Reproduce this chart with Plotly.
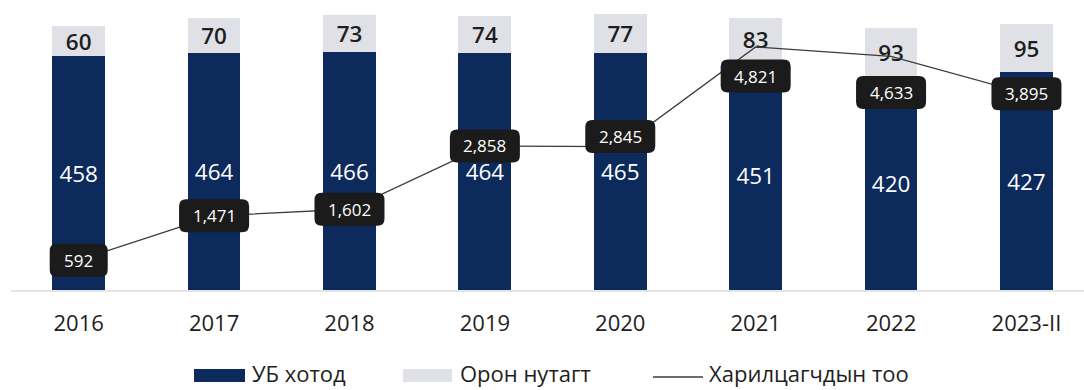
import plotly.graph_objects as go

# Data
categories = ["2016", "2017", "2018", "2019", "2020", "2021", "2022", "2023-II"]
ub_city = [458, 464, 466, 464, 465, 451, 420, 427]          # УБ хотод
countryside = [60, 70, 73, 74, 77, 83, 93, 95]              # Орон нутагт
clients = [592, 1471, 1602, 2858, 2845, 4821, 4633, 3895]   # Харилцагчдын тоо

# Vertical pixel offset of each value badge relative to its point (positive = up)
badge_shift = [0, 0, 0, 0, 10, -29, -36, 0]

NAVY = "#0d2a5c"
LIGHT = "#dfe1e6"
FONT = "Open Sans"

fig = go.Figure()

fig.add_trace(go.Bar(
    x=categories, y=ub_city, name="УБ хотод",
    marker=dict(color=NAVY, line=dict(width=0)),
    width=0.39,
    text=[str(v) for v in ub_city], textposition="inside", insidetextanchor="middle",
    textangle=0,
    textfont=dict(color="white", size=23, family=FONT),
    showlegend=False,
))
fig.add_trace(go.Bar(
    x=categories, y=countryside, name="Орон нутагт",
    marker=dict(color=LIGHT, line=dict(width=0)),
    width=0.39,
    text=[str(v) for v in countryside], textposition="inside", insidetextanchor="middle",
    textangle=0,
    textfont=dict(color="#1e1e1e", size=23, family=FONT, weight=600),
    showlegend=False,
))
fig.add_trace(go.Scatter(
    x=categories, y=clients, name="Харилцагчдын тоо", yaxis="y2",
    mode="lines", line=dict(color="#3c3c3c", width=1.3),
    showlegend=False, cliponaxis=False,
))

# Rounded value badges on the line
def rounded_rect(w, h, r, dy):
    x0, x1 = -w / 2, w / 2
    y0, y1 = dy - h / 2, dy + h / 2
    return (f"M{x0 + r},{y0} L{x1 - r},{y0} Q{x1},{y0} {x1},{y0 + r} "
            f"L{x1},{y1 - r} Q{x1},{y1} {x1 - r},{y1} L{x0 + r},{y1} "
            f"Q{x0},{y1} {x0},{y1 - r} L{x0},{y0 + r} Q{x0},{y0} {x0 + r},{y0} Z")

shapes = []
annotations = []
for i, (v, dy) in enumerate(zip(clients, badge_shift)):
    label = f"{v:,}"
    w = 58 if len(label) <= 3 else 70
    shapes.append(dict(
        type="path", xref="x", yref="y2", xsizemode="pixel", ysizemode="pixel",
        xanchor=i, yanchor=v, path=rounded_rect(w, 33, 7, dy),
        fillcolor="#1b1b1b", line=dict(width=0), layer="above",
    ))
    annotations.append(dict(
        x=i, y=v, xref="x", yref="y2", yshift=dy, text=label, showarrow=False,
        font=dict(color="white", size=17, family=FONT),
    ))

# Legend drawn below the axis
L, W_PLOT, T, H_PLOT = 11, 1073, 10, 280
def px(xp):
    return (xp - L) / W_PLOT
def py(yp):
    return (T + H_PLOT - yp) / H_PLOT

legend_items = [
    ("rect", NAVY, 194, 245, "УБ хотод", 251),
    ("rect", LIGHT, 403, 452, "Орон нутагт", 459),
    ("line", "#3c3c3c", 653, 703, "Харилцагчдын тоо", 708),
]
for kind, color, x0, x1, text, tx in legend_items:
    if kind == "rect":
        shapes.append(dict(type="rect", xref="paper", yref="paper",
                           x0=px(x0), x1=px(x1), y0=py(382), y1=py(369),
                           fillcolor=color, line=dict(width=0)))
    else:
        shapes.append(dict(type="line", xref="paper", yref="paper",
                           x0=px(x0), x1=px(x1), y0=py(377), y1=py(377),
                           line=dict(color=color, width=1.3)))
    annotations.append(dict(x=px(tx), y=py(373), xref="paper", yref="paper",
                            xanchor="left", yanchor="middle", text=text, showarrow=False,
                            borderpad=0,
                            font=dict(color="#1e1e1e", size=22, family=FONT)))

fig.update_layout(
    width=1084, height=390,
    margin=dict(l=L, r=0, t=T, b=100),
    barmode="stack",
    plot_bgcolor="white", paper_bgcolor="white",
    font=dict(family=FONT, color="#1e1e1e"),
    xaxis=dict(type="category", range=[-0.5, 7.425], showgrid=False,
               showline=True, linecolor="#e4e4e4", linewidth=2,
               ticks="", tickfont=dict(size=22, color="#1e1e1e"), ticklabelstandoff=13),
    yaxis=dict(range=[0, 549], visible=False, showgrid=False),
    yaxis2=dict(range=[0, 5555], overlaying="y", visible=False, showgrid=False),
    shapes=shapes, annotations=annotations,
    uniformtext=dict(mode="show", minsize=22),
)

fig.write_html("out.html")
